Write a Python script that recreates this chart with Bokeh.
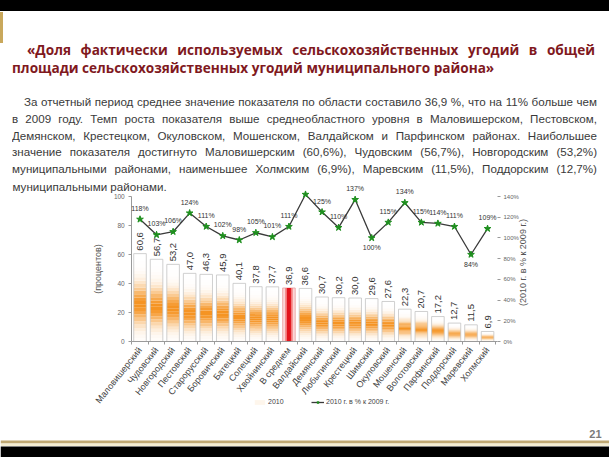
import numpy as np
from bokeh.plotting import figure
from bokeh.models import (ColumnDataSource, Range1d, LinearAxis, FixedTicker, PrintfTickFormatter,
                          LabelSet, Label, Legend, LegendItem, Div, BoxAnnotation)
from bokeh.layouts import column
from bokeh.embed import file_html
from bokeh.resources import INLINE
from bokeh.core.properties import value

# ---------------- data ----------------
districts = ["Маловишерский", "Чудовский", "Новгородский", "Пестовский", "Старорусский",
             "Боровичский", "Батецкий", "Солецкий", "Хвойнинский", "В среднем",
             "Валдайский", "Демянский", "Любытинский", "Крестецкий", "Шимский",
             "Окуловский", "Мошенский", "Волотовский", "Парфинский", "Поддорский",
             "Маревский", "Холмский"]
share_2010 = [60.6, 56.7, 53.2, 47.0, 46.3, 45.9, 40.1, 37.8, 37.7, 36.9,
              36.6, 30.7, 30.2, 30.0, 29.6, 27.6, 22.3, 20.7, 17.2, 12.7, 11.5, 6.9]
growth_pct = [118, 103, 106, 124, 111, 102, 98, 105, 101, 111,
              142, 125, 110, 137, 100, 115, 134, 115, 114, 111, 84, 109]
growth_hidden = ["Валдайский"]
growth_below = ["Шимский", "Маревский"]
avg_name = "В среднем"
left_ticks = [0, 20, 40, 60, 80, 100]
right_ticks = [0, 20, 40, 60, 80, 100, 120, 140]

title_lines = ["«Доля фактически используемых сельскохозяйственных угодий в общей",
               "площади сельскохозяйственных угодий муниципального района»"]
para_lines = ["За отчетный период  среднее значение показателя по области составило 36,9 %, что на 11% больше чем",
              "в 2009 году. Темп роста показателя выше среднеобластного уровня в Маловишерском, Пестовском,",
              "Демянском, Крестецком, Окуловском, Мошенском, Валдайском и Парфинском районах. Наибольшее",
              "значение показателя достигнуто Маловишерским (60,6%), Чудовским (56,7%), Новгородским (53,2%)",
              "муниципальными районами, наименьшее Холмским (6,9%), Маревским (11,5%), Поддорским (12,7%)",
              "муниципальными районами."]
left_title = "(процентов)"
right_title = "(2010 г. в % к 2009 г.)"
legend_bar = "2010"
legend_line = "2010 г. в % к 2009 г."
page_number = "21"

FONT = "Liberation Sans"
W, H = 609, 457
HEAD_H = 178

# ---------------- header (HTML, justified text) ----------------
title_html = (f'<div style="text-align:justify;text-align-last:justify;text-indent:15px;">{title_lines[0]}</div>'
              f'<div>{title_lines[1]}</div>')
para_html = ""
for i, ln in enumerate(para_lines[:5]):
    indent = "text-indent:12px;" if i == 0 else ""
    para_html += (f'<div style="text-align:justify;text-align-last:justify;{indent}'
                  f'height:16.8px;overflow:hidden;">{ln}</div>')

header_html = (
    f'<div style="position:relative;width:{W}px;height:{HEAD_H}px;overflow:hidden;background:#ffffff;">'
    f'<div style="position:absolute;left:0;top:0;width:{W}px;height:11px;background:#000;"></div>'
    f'<div style="position:absolute;left:0;top:12px;width:3px;height:31px;background:#c9a85c;"></div>'
    f'<div style="position:absolute;left:12px;top:41px;width:583px;font-family:\'Open Sans\';font-weight:bold;'
    f'font-size:13.6px;line-height:17.5px;color:#80191e;">{title_html}</div>'
    f'<div style="position:absolute;left:12px;top:94px;width:585px;font-family:\'{FONT}\';font-size:11.6px;'
    f'line-height:16.8px;color:#3a3a3a;">{para_html}</div>'
    f'</div>')
header = Div(text=header_html, width=W, height=HEAD_H, margin=0)

# ---------------- chart geometry (page pixels of the reference) ----------------
FIG_H = H - HEAD_H
X0_PAGE, DX = 139.5, 16.55          # centre of first category, category step
Y0_PAGE, PX_L = 341.0, 1.45          # value 0 row, pixels per left unit
PX_R = 145.0 / 140.0                 # pixels per right-axis percent


def ydata(page_y):
    return (Y0_PAGE - page_y) / PX_L


x_start, x_end = -X0_PAGE / DX, (W - X0_PAGE) / DX
y_start, y_end = ydata(H), ydata(HEAD_H)
r_start, r_end = -(H - Y0_PAGE) / PX_R, (Y0_PAGE - HEAD_H) / PX_R

p = figure(width=W, height=FIG_H, x_range=Range1d(x_start, x_end), y_range=Range1d(y_start, y_end),
           output_backend="svg", toolbar_location=None, min_border=0, margin=0)
p.extra_y_ranges = {"pct": Range1d(r_start, r_end)}
p.outline_line_color = None
p.xgrid.visible = False
p.ygrid.visible = False
p.background_fill_color = "white"
p.border_fill_color = "white"

xs = list(range(len(districts)))

# gradient bars (vertical white -> orange -> white), built from slices
n_sl = 26
orange = np.array([245, 147, 34])
sx, sb, stp, sc = [], [], [], []
for xi, cat, v in zip(xs, districts, share_2010):
    if cat == avg_name:
        continue
    for k in range(n_sl):
        t0, t1 = k / n_sl, (k + 1) / n_sl
        tm = 0.5 * (t0 + t1)
        inten = np.exp(-((tm - 0.42) / 0.21) ** 2)
        c = 255 * (1 - inten) + orange * inten
        sx.append(xi)
        sb.append(v * t0)
        stp.append(v * t1)
        sc.append("#%02x%02x%02x" % tuple(int(round(q)) for q in c))
seg_src = ColumnDataSource(dict(x=sx, bottom=sb, top=stp, color=sc))
bar_r = p.vbar(x="x", bottom="bottom", top="top", width=0.76, fill_color="color",
               line_color=None, source=seg_src)

other = [(xi, v) for xi, c, v in zip(xs, districts, share_2010) if c != avg_name]
out_src = ColumnDataSource(dict(x=[a for a, _ in other], top=[b for _, b in other]))
p.vbar(x="x", top="top", bottom=0, width=0.76, fill_color=None, line_color="#c4c4c4",
       line_width=0.8, source=out_src)

ai = districts.index(avg_name)
avg_src = ColumnDataSource(dict(x=[xs[ai]], top=[share_2010[ai]]))
p.vbar(x="x", top="top", bottom=0, width=0.76, fill_color="#fbd6d6", line_color="#e8a0a0",
       line_width=0.8, source=avg_src)
p.vbar(x="x", top="top", bottom=0, width=0.45, fill_color="#f37b7b", line_color=None, source=avg_src)
p.vbar(x="x", top="top", bottom=0, width=0.24, fill_color="#e3141c", line_color=None, source=avg_src)

# bar value labels (rotated)
bar_lbl_src = ColumnDataSource(dict(x=xs, y=share_2010,
                                    t=[f"{v:.1f}".replace(".", ",") for v in share_2010]))
p.add_layout(LabelSet(x="x", y="y", text="t", angle=np.pi / 2, text_align="left",
                      text_baseline="middle", y_offset=3, source=bar_lbl_src,
                      text_font=value(FONT), text_font_size="9.5px", text_color="#333333"))

# growth line
g_src = ColumnDataSource(dict(
    x=xs, y=growth_pct,
    t=["" if d in growth_hidden else f"{g}%" for d, g in zip(districts, growth_pct)],
    off=[-10 if d in growth_below else 11 for d in districts]))
line_r = p.line(x="x", y="y", source=g_src, y_range_name="pct", line_color="#3a3a3a", line_width=1.3)
pts_r = p.scatter(x="x", y="y", source=g_src, y_range_name="pct", marker="star", size=7,
                  fill_color="#1e8f1e", line_color="#1e8f1e")
p.add_layout(LabelSet(x="x", y="y", text="t", y_range_name="pct", y_offset="off",
                      text_align="center", text_baseline="middle", source=g_src,
                      text_font=value(FONT), text_font_size="7px", text_color="#333333"))

# axes (placed at fixed locations inside a full-size frame)
ya = p.yaxis[0]
ya.fixed_location = -0.5
ya.ticker = FixedTicker(ticks=left_ticks)
ya.bounds = (0, 100)
ya.axis_line_color = "#9a9a9a"
ya.major_tick_line_color = "#9a9a9a"
ya.major_tick_out = 3
ya.major_tick_in = 0
ya.minor_tick_line_color = None
ya.major_label_text_font = FONT
ya.major_label_text_font_size = "6.5px"
ya.major_label_text_color = "#666666"
ya.major_label_standoff = 4
ya.axis_label = left_title
ya.axis_label_text_font = FONT
ya.axis_label_text_font_size = "9px"
ya.axis_label_text_font_style = "normal"
ya.axis_label_text_color = "#555555"
ya.axis_label_standoff = 8

ra = LinearAxis(y_range_name="pct", ticker=FixedTicker(ticks=right_ticks),
                formatter=PrintfTickFormatter(format="%d%%"), bounds=(0, 140))
ra.fixed_location = len(districts) - 0.4
ra.axis_line_color = None
ra.major_tick_line_color = "#9a9a9a"
ra.major_tick_out = 3
ra.major_tick_in = 0
ra.minor_tick_line_color = None
ra.major_label_text_font = FONT
ra.major_label_text_font_size = "6px"
ra.major_label_text_color = "#666666"
ra.major_label_standoff = 3
p.add_layout(ra, "right")

# right-axis title (rotated, reading bottom to top)
p.add_layout(Label(x=522, y=H - 262, x_units="screen", y_units="screen", text=right_title,
                   angle=np.pi / 2, text_align="center", text_baseline="middle",
                   text_font=FONT, text_font_size="9px", text_color="#555555"))

xa = p.xaxis[0]
xa.fixed_location = 0
xa.bounds = (-0.5, len(districts) - 0.4)
xa.ticker = FixedTicker(ticks=xs, minor_ticks=[i - 0.5 for i in xs] + [xs[-1] + 0.5])
xa.major_label_overrides = {i: d for i, d in zip(xs, districts)}
xa.axis_line_color = "#9a9a9a"
xa.major_tick_line_color = None
xa.major_tick_out = 0
xa.minor_tick_line_color = "#9a9a9a"
xa.minor_tick_out = 3
xa.minor_tick_in = 0
xa.major_label_orientation = 0.9
xa.major_label_text_font = FONT
xa.major_label_text_font_size = "9px"
xa.major_label_text_color = "#444444"
xa.major_label_standoff = 4

# last (left-aligned) paragraph line, page number and footer bands
p.add_layout(Label(x=12, y=H - 186, x_units="screen", y_units="screen", text=para_lines[5],
                   text_font=FONT, text_font_size="11.6px", text_color="#3a3a3a",
                   text_baseline="middle", text_align="left"))
p.add_layout(Label(x=601, y=H - 433, x_units="screen", y_units="screen", text=page_number,
                   text_font=FONT, text_font_size="11px", text_font_style="bold", text_color="#7a7a7a",
                   text_baseline="middle", text_align="right"))
p.add_layout(BoxAnnotation(bottom=ydata(443), top=ydata(440), fill_color="#bfa873", fill_alpha=1,
                           line_color=None))
p.add_layout(BoxAnnotation(bottom=ydata(445.5), top=ydata(443), fill_color="#f4edd2", fill_alpha=1,
                           line_color=None))
p.add_layout(BoxAnnotation(bottom=ydata(H), top=ydata(446), fill_color="#000000", fill_alpha=1,
                           line_color=None))

# legend
legend = Legend(items=[LegendItem(label=legend_bar, renderers=[bar_r], index=n_sl // 2 + 6),
                       LegendItem(label=legend_line, renderers=[line_r, pts_r])],
                orientation="horizontal", location=(253, H - 405), glyph_width=13, glyph_height=6,
                label_text_font=FONT, label_text_font_size="7px", label_text_color="#444444",
                label_height=7, label_standoff=2, spacing=23, padding=0, margin=0,
                border_line_color=None, background_fill_alpha=0)
p.add_layout(legend, "center")

layout = column(header, p, spacing=0, margin=0)
open("out.html", "w").write(file_html(layout, INLINE))
